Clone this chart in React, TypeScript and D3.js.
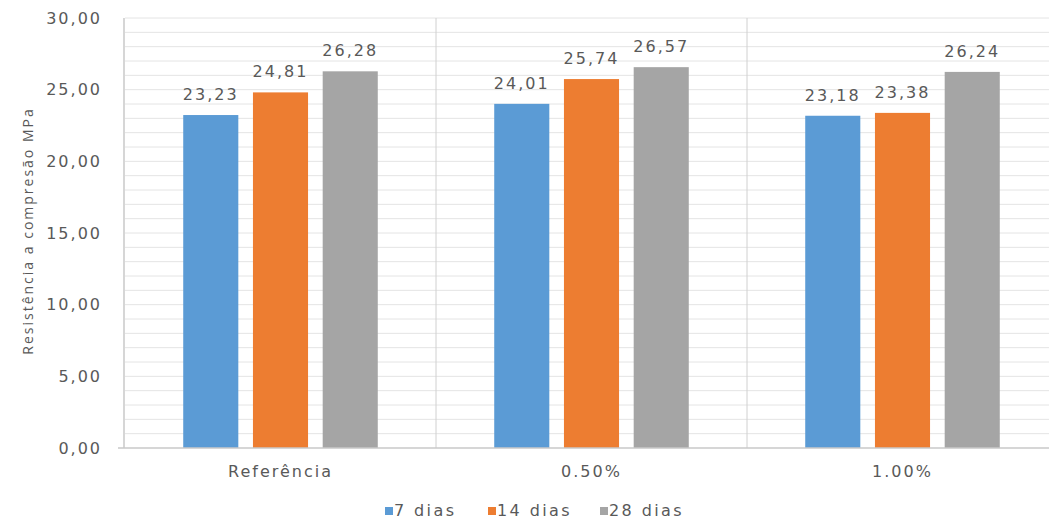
import React from "react";
import * as d3 from "d3";

const categories = ["Referência", "0.50%", "1.00%"];
const seriesNames = ["7 dias", "14 dias", "28 dias"];
const seriesColors = ["#5B9BD5", "#ED7D31", "#A5A5A5"];
const values7 = [23.23, 24.01, 23.18];
const values14 = [24.81, 25.74, 23.38];
const values28 = [26.28, 26.57, 26.24];
const yTicks = [0, 5, 10, 15, 20, 25, 30];
const yTitle = "Resistência a compresão MPa";

const W = 1049;
const H = 521;
const left = 125;
const band = 311;
const top = 18;
const bottom = 448;
const legendX = [385, 488, 600];

const fmt = (v: number) => v.toFixed(2).replace(".", ",");

export default function App() {
  const series = [values7, values14, values28];
  const x0 = d3
    .scaleBand<string>()
    .domain(categories)
    .range([left, left + band * categories.length])
    .padding(0);
  const x1 = d3
    .scaleBand<string>()
    .domain(seriesNames)
    .range([0, x0.bandwidth()])
    .paddingInner(0.21)
    .paddingOuter(0.835);
  const y = d3.scaleLinear().domain([0, 30]).range([bottom, top]);
  const minor = d3.range(1, 31);
  const textStyle = {
    fontFamily: "'DejaVu Sans', Verdana, sans-serif",
    fontSize: 16,
    letterSpacing: 2,
    fill: "#595959",
  } as const;

  return (
    <svg
      width={W}
      height={H}
      style={{ position: "absolute", left: 0, top: 0, background: "#fff" }}
    >
      {/* horizontal gridlines every unit */}
      {minor.map((v) => (
        <line
          key={"g" + v}
          x1={left}
          x2={W}
          y1={y(v)}
          y2={y(v)}
          stroke="#E4E4E4"
          strokeWidth={1}
        />
      ))}
      {/* category separators */}
      {categories.slice(1).map((c) => (
        <line
          key={"s" + c}
          x1={x0(c)!}
          x2={x0(c)!}
          y1={top}
          y2={bottom}
          stroke="#D0D0D0"
          strokeWidth={1}
        />
      ))}
      {/* value axis line */}
      <line x1={124} x2={124} y1={top} y2={bottom} stroke="#C8C8C8" strokeWidth={1.5} />
      {/* bars */}
      {categories.map((c, ci) =>
        seriesNames.map((s, si) => {
          const v = series[si][ci];
          const bx = x0(c)! + x1(s)!;
          return (
            <g key={c + s}>
              <rect
                x={bx}
                y={y(v)}
                width={x1.bandwidth()}
                height={bottom - y(v)}
                fill={seriesColors[si]}
              />
              <text
                x={bx + x1.bandwidth() / 2}
                y={y(v) - 15}
                textAnchor="middle"
                style={textStyle}
              >
                {fmt(v)}
              </text>
            </g>
          );
        })
      )}
      {/* category axis line */}
      <line x1={118} x2={W} y1={bottom} y2={bottom} stroke="#C8C8C8" strokeWidth={1.5} />
      {/* y tick labels */}
      {yTicks.map((t) => (
        <text
          key={"t" + t}
          x={102}
          y={y(t)}
          dy="0.36em"
          textAnchor="end"
          style={textStyle}
        >
          {fmt(t)}
        </text>
      ))}
      {/* category labels */}
      {categories.map((c) => (
        <text
          key={"c" + c}
          x={x0(c)! + x0.bandwidth() / 2}
          y={477}
          textAnchor="middle"
          style={textStyle}
        >
          {c}
        </text>
      ))}
      {/* y axis title */}
      <text
        transform={`translate(33,231) rotate(-90)`}
        textAnchor="middle"
        style={{
          fontFamily: "'Open Sans', sans-serif",
          fontSize: 14,
          letterSpacing: 2,
          fill: "#595959",
        }}
      >
        {yTitle}
      </text>
      {/* legend */}
      {seriesNames.map((s, i) => (
        <g key={"l" + s} transform={`translate(${legendX[i]},507)`}>
          <rect x={0} y={0} width={8} height={8} fill={seriesColors[i]} />
          <text x={9} y={9} style={{ ...textStyle, letterSpacing: 2.4 }}>
            {s}
          </text>
        </g>
      ))}
    </svg>
  );
}
